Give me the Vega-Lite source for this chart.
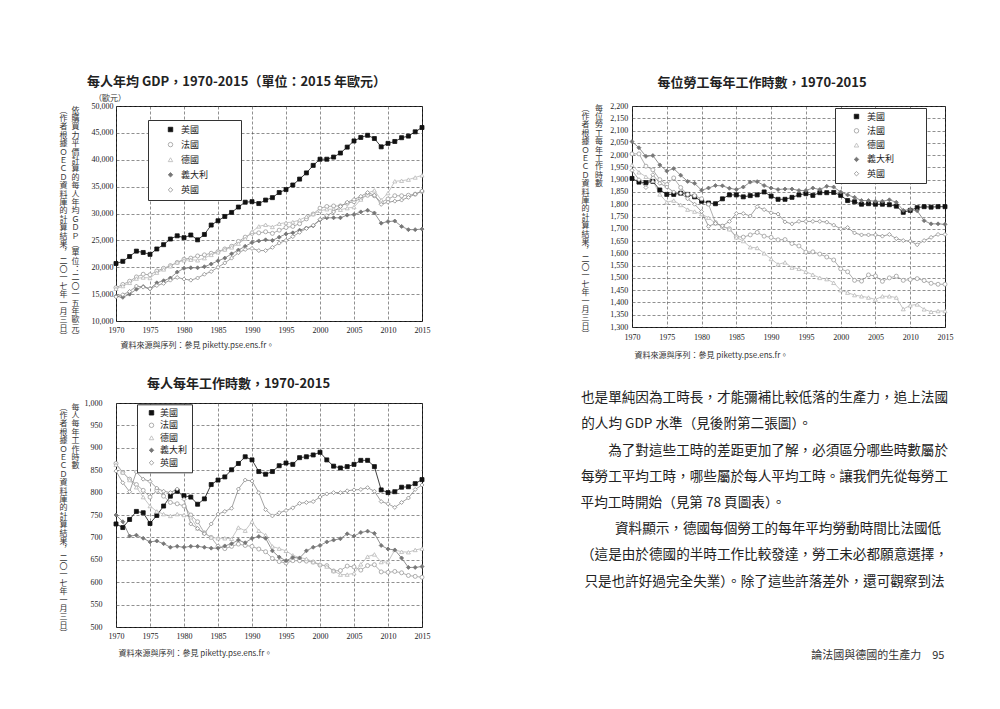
{
"$schema":"https://vega.github.io/schema/vega-lite/v6.json",
"background":"white",
"padding":{"left":58,"top":75,"right":5,"bottom":5},
"datasets":{
"gdp":[
{"country":"美國","year":1970,"value":20700},{"country":"美國","year":1971,"value":21100},{"country":"美國","year":1972,"value":22000},{"country":"美國","year":1973,"value":23000},{"country":"美國","year":1974,"value":22750},{"country":"美國","year":1975,"value":22400},{"country":"美國","year":1976,"value":23400},{"country":"美國","year":1977,"value":24200},{"country":"美國","year":1978,"value":25250},{"country":"美國","year":1979,"value":25850},
{"country":"美國","year":1980,"value":25500},{"country":"美國","year":1981,"value":26000},{"country":"美國","year":1982,"value":25100},{"country":"美國","year":1983,"value":26100},{"country":"美國","year":1984,"value":27850},{"country":"美國","year":1985,"value":28650},{"country":"美國","year":1986,"value":29450},{"country":"美國","year":1987,"value":30200},{"country":"美國","year":1988,"value":31200},{"country":"美國","year":1989,"value":32100},
{"country":"美國","year":1990,"value":32200},{"country":"美國","year":1991,"value":31850},{"country":"美國","year":1992,"value":32500},{"country":"美國","year":1993,"value":32950},{"country":"美國","year":1994,"value":33900},{"country":"美國","year":1995,"value":34450},{"country":"美國","year":1996,"value":35300},{"country":"美國","year":1997,"value":36400},{"country":"美國","year":1998,"value":37550},{"country":"美國","year":1999,"value":38950},
{"country":"美國","year":2000,"value":40100},{"country":"美國","year":2001,"value":40100},{"country":"美國","year":2002,"value":40500},{"country":"美國","year":2003,"value":41250},{"country":"美國","year":2004,"value":42350},{"country":"美國","year":2005,"value":43500},{"country":"美國","year":2006,"value":44150},{"country":"美國","year":2007,"value":44550},{"country":"美國","year":2008,"value":43950},{"country":"美國","year":2009,"value":42400},
{"country":"美國","year":2010,"value":43050},{"country":"美國","year":2011,"value":43400},{"country":"美國","year":2012,"value":44100},{"country":"美國","year":2013,"value":44400},{"country":"美國","year":2014,"value":45200},{"country":"美國","year":2015,"value":46000},
{"country":"法國","year":1970,"value":16200},{"country":"法國","year":1971,"value":16800},{"country":"法國","year":1972,"value":17400},{"country":"法國","year":1973,"value":18200},{"country":"法國","year":1974,"value":18700},{"country":"法國","year":1975,"value":18600},{"country":"法國","year":1976,"value":19300},{"country":"法國","year":1977,"value":19800},{"country":"法國","year":1978,"value":20300},{"country":"法國","year":1979,"value":20900},
{"country":"法國","year":1980,"value":21500},{"country":"法國","year":1981,"value":21700},{"country":"法國","year":1982,"value":22100},{"country":"法國","year":1983,"value":22300},{"country":"法國","year":1984,"value":22600},{"country":"法國","year":1985,"value":22900},{"country":"法國","year":1986,"value":23400},{"country":"法國","year":1987,"value":23900},{"country":"法國","year":1988,"value":24800},{"country":"法國","year":1989,"value":25600},
{"country":"法國","year":1990,"value":26300},{"country":"法國","year":1991,"value":26400},{"country":"法國","year":1992,"value":26600},{"country":"法國","year":1993,"value":26300},{"country":"法國","year":1994,"value":26900},{"country":"法國","year":1995,"value":27400},{"country":"法國","year":1996,"value":27600},{"country":"法國","year":1997,"value":28100},{"country":"法國","year":1998,"value":29000},{"country":"法國","year":1999,"value":29900},
{"country":"法國","year":2000,"value":31000},{"country":"法國","year":2001,"value":31300},{"country":"法國","year":2002,"value":31400},{"country":"法國","year":2003,"value":31400},{"country":"法國","year":2004,"value":31900},{"country":"法國","year":2005,"value":32200},{"country":"法國","year":2006,"value":32800},{"country":"法國","year":2007,"value":33400},{"country":"法國","year":2008,"value":33300},{"country":"法國","year":2009,"value":32100},
{"country":"法國","year":2010,"value":32700},{"country":"法國","year":2011,"value":33300},{"country":"法國","year":2012,"value":33300},{"country":"法國","year":2013,"value":33400},{"country":"法國","year":2014,"value":33600},{"country":"法國","year":2015,"value":34100},
{"country":"德國","year":1970,"value":16000},{"country":"德國","year":1971,"value":16500},{"country":"德國","year":1972,"value":17100},{"country":"德國","year":1973,"value":17900},{"country":"德國","year":1974,"value":18100},{"country":"德國","year":1975,"value":18000},{"country":"德國","year":1976,"value":19000},{"country":"德國","year":1977,"value":19600},{"country":"德國","year":1978,"value":20200},{"country":"德國","year":1979,"value":20900},
{"country":"德國","year":1980,"value":21300},{"country":"德國","year":1981,"value":21400},{"country":"德國","year":1982,"value":21300},{"country":"德國","year":1983,"value":21700},{"country":"德國","year":1984,"value":22300},{"country":"德國","year":1985,"value":22800},{"country":"德國","year":1986,"value":23300},{"country":"德國","year":1987,"value":23700},{"country":"德國","year":1988,"value":24400},{"country":"德國","year":1989,"value":25300},
{"country":"德國","year":1990,"value":26600},{"country":"德國","year":1991,"value":27600},{"country":"德國","year":1992,"value":27900},{"country":"德國","year":1993,"value":27500},{"country":"德國","year":1994,"value":28100},{"country":"德國","year":1995,"value":28300},{"country":"德國","year":1996,"value":28400},{"country":"德國","year":1997,"value":28800},{"country":"德國","year":1998,"value":29400},{"country":"德國","year":1999,"value":29900},
{"country":"德國","year":2000,"value":30500},{"country":"德國","year":2001,"value":30800},{"country":"德國","year":2002,"value":30800},{"country":"德國","year":2003,"value":30700},{"country":"德國","year":2004,"value":31000},{"country":"德國","year":2005,"value":31200},{"country":"德國","year":2006,"value":32600},{"country":"德國","year":2007,"value":33800},{"country":"德國","year":2008,"value":34300},{"country":"德國","year":2009,"value":32500},
{"country":"德國","year":2010,"value":33800},{"country":"德國","year":2011,"value":36000},{"country":"德國","year":2012,"value":36100},{"country":"德國","year":2013,"value":36300},{"country":"德國","year":2014,"value":36700},{"country":"德國","year":2015,"value":37100},
{"country":"義大利","year":1970,"value":14600},{"country":"義大利","year":1971,"value":14400},{"country":"義大利","year":1972,"value":15000},{"country":"義大利","year":1973,"value":15900},{"country":"義大利","year":1974,"value":16400},{"country":"義大利","year":1975,"value":16000},{"country":"義大利","year":1976,"value":17100},{"country":"義大利","year":1977,"value":17500},{"country":"義大利","year":1978,"value":18000},{"country":"義大利","year":1979,"value":19100},
{"country":"義大利","year":1980,"value":19800},{"country":"義大利","year":1981,"value":19900},{"country":"義大利","year":1982,"value":19900},{"country":"義大利","year":1983,"value":20100},{"country":"義大利","year":1984,"value":20600},{"country":"義大利","year":1985,"value":21200},{"country":"義大利","year":1986,"value":21700},{"country":"義大利","year":1987,"value":22500},{"country":"義大利","year":1988,"value":23200},{"country":"義大利","year":1989,"value":23900},
{"country":"義大利","year":1990,"value":24600},{"country":"義大利","year":1991,"value":24900},{"country":"義大利","year":1992,"value":25100},{"country":"義大利","year":1993,"value":25000},{"country":"義大利","year":1994,"value":25600},{"country":"義大利","year":1995,"value":26200},{"country":"義大利","year":1996,"value":26400},{"country":"義大利","year":1997,"value":26900},{"country":"義大利","year":1998,"value":27300},{"country":"義大利","year":1999,"value":27700},
{"country":"義大利","year":2000,"value":28800},{"country":"義大利","year":2001,"value":29200},{"country":"義大利","year":2002,"value":29200},{"country":"義大利","year":2003,"value":29200},{"country":"義大利","year":2004,"value":29700},{"country":"義大利","year":2005,"value":29800},{"country":"義大利","year":2006,"value":30300},{"country":"義大利","year":2007,"value":30600},{"country":"義大利","year":2008,"value":30100},{"country":"義大利","year":2009,"value":28200},
{"country":"義大利","year":2010,"value":28500},{"country":"義大利","year":2011,"value":28600},{"country":"義大利","year":2012,"value":27600},{"country":"義大利","year":2013,"value":27000},{"country":"義大利","year":2014,"value":27000},{"country":"義大利","year":2015,"value":27100},
{"country":"英國","year":1970,"value":14500},{"country":"英國","year":1971,"value":14900},{"country":"英國","year":1972,"value":15500},{"country":"英國","year":1973,"value":16500},{"country":"英國","year":1974,"value":16300},{"country":"英國","year":1975,"value":16000},{"country":"英國","year":1976,"value":16600},{"country":"英國","year":1977,"value":17000},{"country":"英國","year":1978,"value":17600},{"country":"英國","year":1979,"value":18100},
{"country":"英國","year":1980,"value":17800},{"country":"英國","year":1981,"value":17600},{"country":"英國","year":1982,"value":18000},{"country":"英國","year":1983,"value":18700},{"country":"英國","year":1984,"value":19200},{"country":"英國","year":1985,"value":20000},{"country":"英國","year":1986,"value":20800},{"country":"英國","year":1987,"value":21700},{"country":"英國","year":1988,"value":22700},{"country":"英國","year":1989,"value":23300},
{"country":"英國","year":1990,"value":23500},{"country":"英國","year":1991,"value":23100},{"country":"英國","year":1992,"value":23100},{"country":"英國","year":1993,"value":23700},{"country":"英國","year":1994,"value":24500},{"country":"英國","year":1995,"value":25000},{"country":"英國","year":1996,"value":25700},{"country":"英國","year":1997,"value":26500},{"country":"英國","year":1998,"value":27200},{"country":"英國","year":1999,"value":27800},
{"country":"英國","year":2000,"value":28900},{"country":"英國","year":2001,"value":29600},{"country":"英國","year":2002,"value":30300},{"country":"英國","year":2003,"value":31300},{"country":"英國","year":2004,"value":32100},{"country":"英國","year":2005,"value":32600},{"country":"英國","year":2006,"value":33200},{"country":"英國","year":2007,"value":33900},{"country":"英國","year":2008,"value":33400},{"country":"英國","year":2009,"value":31700},
{"country":"英國","year":2010,"value":32100},{"country":"英國","year":2011,"value":32300},{"country":"英國","year":2012,"value":32500},{"country":"英國","year":2013,"value":33000},{"country":"英國","year":2014,"value":33600},{"country":"英國","year":2015,"value":34200}
],
"hpp":[
{"country":"美國","year":1970,"value":730},{"country":"美國","year":1971,"value":722},{"country":"美國","year":1972,"value":740},{"country":"美國","year":1973,"value":758},{"country":"美國","year":1974,"value":755},{"country":"美國","year":1975,"value":731},{"country":"美國","year":1976,"value":749},{"country":"美國","year":1977,"value":770},{"country":"美國","year":1978,"value":792},{"country":"美國","year":1979,"value":803},
{"country":"美國","year":1980,"value":793},{"country":"美國","year":1981,"value":790},{"country":"美國","year":1982,"value":774},{"country":"美國","year":1983,"value":786},{"country":"美國","year":1984,"value":818},{"country":"美國","year":1985,"value":828},{"country":"美國","year":1986,"value":835},{"country":"美國","year":1987,"value":851},{"country":"美國","year":1988,"value":865},{"country":"美國","year":1989,"value":880},
{"country":"美國","year":1990,"value":873},{"country":"美國","year":1991,"value":847},{"country":"美國","year":1992,"value":841},{"country":"美國","year":1993,"value":847},{"country":"美國","year":1994,"value":860},{"country":"美國","year":1995,"value":866},{"country":"美國","year":1996,"value":863},{"country":"美國","year":1997,"value":878},{"country":"美國","year":1998,"value":880},{"country":"美國","year":1999,"value":884},
{"country":"美國","year":2000,"value":890},{"country":"美國","year":2001,"value":873},{"country":"美國","year":2002,"value":859},{"country":"美國","year":2003,"value":855},{"country":"美國","year":2004,"value":858},{"country":"美國","year":2005,"value":863},{"country":"美國","year":2006,"value":872},{"country":"美國","year":2007,"value":872},{"country":"美國","year":2008,"value":858},{"country":"美國","year":2009,"value":806},
{"country":"美國","year":2010,"value":800},{"country":"美國","year":2011,"value":802},{"country":"美國","year":2012,"value":812},{"country":"美國","year":2013,"value":813},{"country":"美國","year":2014,"value":820},{"country":"美國","year":2015,"value":829},
{"country":"法國","year":1970,"value":865},{"country":"法國","year":1971,"value":845},{"country":"法國","year":1972,"value":830},{"country":"法國","year":1973,"value":818},{"country":"法國","year":1974,"value":805},{"country":"法國","year":1975,"value":790},{"country":"法國","year":1976,"value":805},{"country":"法國","year":1977,"value":792},{"country":"法國","year":1978,"value":778},{"country":"法國","year":1979,"value":775},
{"country":"法國","year":1980,"value":770},{"country":"法國","year":1981,"value":750},{"country":"法國","year":1982,"value":735},{"country":"法國","year":1983,"value":710},{"country":"法國","year":1984,"value":700},{"country":"法國","year":1985,"value":680},{"country":"法國","year":1986,"value":675},{"country":"法國","year":1987,"value":680},{"country":"法國","year":1988,"value":685},{"country":"法國","year":1989,"value":682},
{"country":"法國","year":1990,"value":680},{"country":"法國","year":1991,"value":674},{"country":"法國","year":1992,"value":668},{"country":"法國","year":1993,"value":653},{"country":"法國","year":1994,"value":646},{"country":"法國","year":1995,"value":643},{"country":"法國","year":1996,"value":648},{"country":"法國","year":1997,"value":648},{"country":"法國","year":1998,"value":647},{"country":"法國","year":1999,"value":645},
{"country":"法國","year":2000,"value":638},{"country":"法國","year":2001,"value":637},{"country":"法國","year":2002,"value":625},{"country":"法國","year":2003,"value":626},{"country":"法國","year":2004,"value":636},{"country":"法國","year":2005,"value":634},{"country":"法國","year":2006,"value":627},{"country":"法國","year":2007,"value":637},{"country":"法國","year":2008,"value":639},{"country":"法國","year":2009,"value":623},
{"country":"法國","year":2010,"value":622},{"country":"法國","year":2011,"value":624},{"country":"法國","year":2012,"value":621},{"country":"法國","year":2013,"value":615},{"country":"法國","year":2014,"value":613},{"country":"法國","year":2015,"value":611},
{"country":"德國","year":1970,"value":862},{"country":"德國","year":1971,"value":845},{"country":"德國","year":1972,"value":828},{"country":"德國","year":1973,"value":812},{"country":"德國","year":1974,"value":790},{"country":"德國","year":1975,"value":770},{"country":"德國","year":1976,"value":758},{"country":"德國","year":1977,"value":752},{"country":"德國","year":1978,"value":748},{"country":"德國","year":1979,"value":752},
{"country":"德國","year":1980,"value":750},{"country":"德國","year":1981,"value":745},{"country":"德國","year":1982,"value":720},{"country":"德國","year":1983,"value":710},{"country":"德國","year":1984,"value":700},{"country":"德國","year":1985,"value":698},{"country":"德國","year":1986,"value":698},{"country":"德國","year":1987,"value":697},{"country":"德國","year":1988,"value":722},{"country":"德國","year":1989,"value":715},
{"country":"德國","year":1990,"value":735},{"country":"德國","year":1991,"value":715},{"country":"德國","year":1992,"value":705},{"country":"德國","year":1993,"value":680},{"country":"德國","year":1994,"value":675},{"country":"德國","year":1995,"value":670},{"country":"德國","year":1996,"value":660},{"country":"德國","year":1997,"value":655},{"country":"德國","year":1998,"value":652},{"country":"德國","year":1999,"value":645},
{"country":"德國","year":2000,"value":640},{"country":"德國","year":2001,"value":635},{"country":"德國","year":2002,"value":625},{"country":"德國","year":2003,"value":617},{"country":"德國","year":2004,"value":617},{"country":"德國","year":2005,"value":620},{"country":"德國","year":2006,"value":640},{"country":"德國","year":2007,"value":657},{"country":"德國","year":2008,"value":662},{"country":"德國","year":2009,"value":645},
{"country":"德國","year":2010,"value":645},{"country":"德國","year":2011,"value":672},{"country":"德國","year":2012,"value":668},{"country":"德國","year":2013,"value":667},{"country":"德國","year":2014,"value":672},{"country":"德國","year":2015,"value":675},
{"country":"義大利","year":1970,"value":750},{"country":"義大利","year":1971,"value":735},{"country":"義大利","year":1972,"value":703},{"country":"義大利","year":1973,"value":705},{"country":"義大利","year":1974,"value":698},{"country":"義大利","year":1975,"value":690},{"country":"義大利","year":1976,"value":692},{"country":"義大利","year":1977,"value":686},{"country":"義大利","year":1978,"value":678},{"country":"義大利","year":1979,"value":680},
{"country":"義大利","year":1980,"value":678},{"country":"義大利","year":1981,"value":680},{"country":"義大利","year":1982,"value":680},{"country":"義大利","year":1983,"value":678},{"country":"義大利","year":1984,"value":676},{"country":"義大利","year":1985,"value":676},{"country":"義大利","year":1986,"value":681},{"country":"義大利","year":1987,"value":686},{"country":"義大利","year":1988,"value":694},{"country":"義大利","year":1989,"value":688},
{"country":"義大利","year":1990,"value":698},{"country":"義大利","year":1991,"value":702},{"country":"義大利","year":1992,"value":698},{"country":"義大利","year":1993,"value":670},{"country":"義大利","year":1994,"value":656},{"country":"義大利","year":1995,"value":648},{"country":"義大利","year":1996,"value":655},{"country":"義大利","year":1997,"value":654},{"country":"義大利","year":1998,"value":670},{"country":"義大利","year":1999,"value":678},
{"country":"義大利","year":2000,"value":682},{"country":"義大利","year":2001,"value":690},{"country":"義大利","year":2002,"value":694},{"country":"義大利","year":2003,"value":697},{"country":"義大利","year":2004,"value":708},{"country":"義大利","year":2005,"value":703},{"country":"義大利","year":2006,"value":711},{"country":"義大利","year":2007,"value":714},{"country":"義大利","year":2008,"value":709},{"country":"義大利","year":2009,"value":682},
{"country":"義大利","year":2010,"value":674},{"country":"義大利","year":2011,"value":672},{"country":"義大利","year":2012,"value":654},{"country":"義大利","year":2013,"value":633},{"country":"義大利","year":2014,"value":633},{"country":"義大利","year":2015,"value":635},
{"country":"英國","year":1970,"value":848},{"country":"英國","year":1971,"value":822},{"country":"英國","year":1972,"value":802},{"country":"英國","year":1973,"value":846},{"country":"英國","year":1974,"value":830},{"country":"英國","year":1975,"value":825},{"country":"英國","year":1976,"value":810},{"country":"英國","year":1977,"value":803},{"country":"英國","year":1978,"value":800},{"country":"英國","year":1979,"value":808},
{"country":"英國","year":1980,"value":785},{"country":"英國","year":1981,"value":730},{"country":"英國","year":1982,"value":720},{"country":"英國","year":1983,"value":708},{"country":"英國","year":1984,"value":730},{"country":"英國","year":1985,"value":752},{"country":"英國","year":1986,"value":758},{"country":"英國","year":1987,"value":765},{"country":"英國","year":1988,"value":808},{"country":"英國","year":1989,"value":828},
{"country":"英國","year":1990,"value":826},{"country":"英國","year":1991,"value":800},{"country":"英國","year":1992,"value":762},{"country":"英國","year":1993,"value":748},{"country":"英國","year":1994,"value":755},{"country":"英國","year":1995,"value":760},{"country":"英國","year":1996,"value":766},{"country":"英國","year":1997,"value":776},{"country":"英國","year":1998,"value":778},{"country":"英國","year":1999,"value":780},
{"country":"英國","year":2000,"value":790},{"country":"英國","year":2001,"value":797},{"country":"英國","year":2002,"value":800},{"country":"英國","year":2003,"value":800},{"country":"英國","year":2004,"value":804},{"country":"英國","year":2005,"value":806},{"country":"英國","year":2006,"value":807},{"country":"英國","year":2007,"value":811},{"country":"英國","year":2008,"value":803},{"country":"英國","year":2009,"value":780},
{"country":"英國","year":2010,"value":775},{"country":"英國","year":2011,"value":767},{"country":"英國","year":2012,"value":778},{"country":"英國","year":2013,"value":788},{"country":"英國","year":2014,"value":807},{"country":"英國","year":2015,"value":817}
],
"hpw":[
{"country":"美國","year":1970,"value":1905},{"country":"美國","year":1971,"value":1890},{"country":"美國","year":1972,"value":1888},{"country":"美國","year":1973,"value":1893},{"country":"美國","year":1974,"value":1858},{"country":"美國","year":1975,"value":1840},{"country":"美國","year":1976,"value":1840},{"country":"美國","year":1977,"value":1845},{"country":"美國","year":1978,"value":1840},{"country":"美國","year":1979,"value":1830},
{"country":"美國","year":1980,"value":1812},{"country":"美國","year":1981,"value":1805},{"country":"美國","year":1982,"value":1802},{"country":"美國","year":1983,"value":1822},{"country":"美國","year":1984,"value":1838},{"country":"美國","year":1985,"value":1838},{"country":"美國","year":1986,"value":1830},{"country":"美國","year":1987,"value":1835},{"country":"美國","year":1988,"value":1838},{"country":"美國","year":1989,"value":1850},
{"country":"美國","year":1990,"value":1833},{"country":"美國","year":1991,"value":1820},{"country":"美國","year":1992,"value":1820},{"country":"美國","year":1993,"value":1828},{"country":"美國","year":1994,"value":1838},{"country":"美國","year":1995,"value":1843},{"country":"美國","year":1996,"value":1836},{"country":"美國","year":1997,"value":1847},{"country":"美國","year":1998,"value":1847},{"country":"美國","year":1999,"value":1848},
{"country":"美國","year":2000,"value":1836},{"country":"美國","year":2001,"value":1815},{"country":"美國","year":2002,"value":1810},{"country":"美國","year":2003,"value":1800},{"country":"美國","year":2004,"value":1802},{"country":"美國","year":2005,"value":1800},{"country":"美國","year":2006,"value":1800},{"country":"美國","year":2007,"value":1798},{"country":"美國","year":2008,"value":1792},{"country":"美國","year":2009,"value":1767},
{"country":"美國","year":2010,"value":1775},{"country":"美國","year":2011,"value":1786},{"country":"美國","year":2012,"value":1790},{"country":"美國","year":2013,"value":1788},{"country":"美國","year":2014,"value":1790},{"country":"美國","year":2015,"value":1790},
{"country":"法國","year":1970,"value":2005},{"country":"法國","year":1971,"value":2005},{"country":"法國","year":1972,"value":1955},{"country":"法國","year":1973,"value":1940},{"country":"法國","year":1974,"value":1900},{"country":"法國","year":1975,"value":1880},{"country":"法國","year":1976,"value":1907},{"country":"法國","year":1977,"value":1868},{"country":"法國","year":1978,"value":1840},{"country":"法國","year":1979,"value":1835},
{"country":"法國","year":1980,"value":1822},{"country":"法國","year":1981,"value":1800},{"country":"法國","year":1982,"value":1725},{"country":"法國","year":1983,"value":1710},{"country":"法國","year":1984,"value":1700},{"country":"法國","year":1985,"value":1668},{"country":"法國","year":1986,"value":1666},{"country":"法國","year":1987,"value":1675},{"country":"法國","year":1988,"value":1685},{"country":"法國","year":1989,"value":1670},
{"country":"法國","year":1990,"value":1665},{"country":"法國","year":1991,"value":1655},{"country":"法國","year":1992,"value":1656},{"country":"法國","year":1993,"value":1640},{"country":"法國","year":1994,"value":1630},{"country":"法國","year":1995,"value":1605},{"country":"法國","year":1996,"value":1606},{"country":"法國","year":1997,"value":1597},{"country":"法國","year":1998,"value":1585},{"country":"法國","year":1999,"value":1573},
{"country":"法國","year":2000,"value":1537},{"country":"法國","year":2001,"value":1525},{"country":"法國","year":2002,"value":1490},{"country":"法國","year":2003,"value":1487},{"country":"法國","year":2004,"value":1512},{"country":"法國","year":2005,"value":1508},{"country":"法國","year":2006,"value":1486},{"country":"法國","year":2007,"value":1500},{"country":"法國","year":2008,"value":1507},{"country":"法國","year":2009,"value":1490},
{"country":"法國","year":2010,"value":1493},{"country":"法國","year":2011,"value":1497},{"country":"法國","year":2012,"value":1489},{"country":"法國","year":2013,"value":1478},{"country":"法國","year":2014,"value":1474},{"country":"法國","year":2015,"value":1474},
{"country":"德國","year":1970,"value":1960},{"country":"德國","year":1971,"value":1930},{"country":"德國","year":1972,"value":1912},{"country":"德國","year":1973,"value":1895},{"country":"德國","year":1974,"value":1840},{"country":"德國","year":1975,"value":1808},{"country":"德國","year":1976,"value":1815},{"country":"德國","year":1977,"value":1797},{"country":"德國","year":1978,"value":1778},{"country":"德國","year":1979,"value":1770},
{"country":"德國","year":1980,"value":1760},{"country":"德國","year":1981,"value":1745},{"country":"德國","year":1982,"value":1722},{"country":"德國","year":1983,"value":1710},{"country":"德國","year":1984,"value":1698},{"country":"德國","year":1985,"value":1665},{"country":"德國","year":1986,"value":1650},{"country":"德國","year":1987,"value":1625},{"country":"德國","year":1988,"value":1622},{"country":"德國","year":1989,"value":1600},
{"country":"德國","year":1990,"value":1577},{"country":"德國","year":1991,"value":1555},{"country":"德國","year":1992,"value":1563},{"country":"德國","year":1993,"value":1542},{"country":"德國","year":1994,"value":1537},{"country":"德國","year":1995,"value":1525},{"country":"德國","year":1996,"value":1513},{"country":"德國","year":1997,"value":1500},{"country":"德國","year":1998,"value":1495},{"country":"德國","year":1999,"value":1480},
{"country":"德國","year":2000,"value":1450},{"country":"德國","year":2001,"value":1440},{"country":"德國","year":2002,"value":1430},{"country":"德國","year":2003,"value":1425},{"country":"德國","year":2004,"value":1420},{"country":"德國","year":2005,"value":1412},{"country":"德國","year":2006,"value":1425},{"country":"德國","year":2007,"value":1425},{"country":"德國","year":2008,"value":1420},{"country":"德國","year":2009,"value":1373},
{"country":"德國","year":2010,"value":1388},{"country":"德國","year":2011,"value":1392},{"country":"德國","year":2012,"value":1372},{"country":"德國","year":2013,"value":1362},{"country":"德國","year":2014,"value":1365},{"country":"德國","year":2015,"value":1365},
{"country":"義大利","year":1970,"value":2055},{"country":"義大利","year":1971,"value":2030},{"country":"義大利","year":1972,"value":1995},{"country":"義大利","year":1973,"value":1998},{"country":"義大利","year":1974,"value":1960},{"country":"義大利","year":1975,"value":1935},{"country":"義大利","year":1976,"value":1945},{"country":"義大利","year":1977,"value":1918},{"country":"義大利","year":1978,"value":1893},{"country":"義大利","year":1979,"value":1885},
{"country":"義大利","year":1980,"value":1857},{"country":"義大利","year":1981,"value":1866},{"country":"義大利","year":1982,"value":1876},{"country":"義大利","year":1983,"value":1875},{"country":"義大利","year":1984,"value":1865},{"country":"義大利","year":1985,"value":1860},{"country":"義大利","year":1986,"value":1870},{"country":"義大利","year":1987,"value":1890},{"country":"義大利","year":1988,"value":1892},{"country":"義大利","year":1989,"value":1876},
{"country":"義大利","year":1990,"value":1866},{"country":"義大利","year":1991,"value":1860},{"country":"義大利","year":1992,"value":1862},{"country":"義大利","year":1993,"value":1862},{"country":"義大利","year":1994,"value":1856},{"country":"義大利","year":1995,"value":1856},{"country":"義大利","year":1996,"value":1866},{"country":"義大利","year":1997,"value":1860},{"country":"義大利","year":1998,"value":1873},{"country":"義大利","year":1999,"value":1870},
{"country":"義大利","year":2000,"value":1850},{"country":"義大利","year":2001,"value":1838},{"country":"義大利","year":2002,"value":1828},{"country":"義大利","year":2003,"value":1815},{"country":"義大利","year":2004,"value":1815},{"country":"義大利","year":2005,"value":1812},{"country":"義大利","year":2006,"value":1812},{"country":"義大利","year":2007,"value":1818},{"country":"義大利","year":2008,"value":1808},{"country":"義大利","year":2009,"value":1775},
{"country":"義大利","year":2010,"value":1778},{"country":"義大利","year":2011,"value":1773},{"country":"義大利","year":2012,"value":1733},{"country":"義大利","year":2013,"value":1720},{"country":"義大利","year":2014,"value":1720},{"country":"義大利","year":2015,"value":1718},
{"country":"英國","year":1970,"value":1938},{"country":"英國","year":1971,"value":1900},{"country":"英國","year":1972,"value":1868},{"country":"英國","year":1973,"value":1920},{"country":"英國","year":1974,"value":1885},{"country":"英國","year":1975,"value":1870},{"country":"英國","year":1976,"value":1850},{"country":"英國","year":1977,"value":1845},{"country":"英國","year":1978,"value":1822},{"country":"英國","year":1979,"value":1800},
{"country":"英國","year":1980,"value":1770},{"country":"英國","year":1981,"value":1710},{"country":"英國","year":1982,"value":1722},{"country":"英國","year":1983,"value":1712},{"country":"英國","year":1984,"value":1730},{"country":"英國","year":1985,"value":1762},{"country":"英國","year":1986,"value":1762},{"country":"英國","year":1987,"value":1752},{"country":"英國","year":1988,"value":1790},{"country":"英國","year":1989,"value":1778},
{"country":"英國","year":1990,"value":1765},{"country":"英國","year":1991,"value":1760},{"country":"英國","year":1992,"value":1728},{"country":"英國","year":1993,"value":1720},{"country":"英國","year":1994,"value":1730},{"country":"英國","year":1995,"value":1730},{"country":"英國","year":1996,"value":1730},{"country":"英國","year":1997,"value":1730},{"country":"英國","year":1998,"value":1727},{"country":"英國","year":1999,"value":1715},
{"country":"英國","year":2000,"value":1700},{"country":"英國","year":2001,"value":1705},{"country":"英國","year":2002,"value":1683},{"country":"英國","year":2003,"value":1675},{"country":"英國","year":2004,"value":1675},{"country":"英國","year":2005,"value":1675},{"country":"英國","year":2006,"value":1670},{"country":"英國","year":2007,"value":1677},{"country":"英國","year":2008,"value":1660},{"country":"英國","year":2009,"value":1652},
{"country":"英國","year":2010,"value":1650},{"country":"英國","year":2011,"value":1635},{"country":"英國","year":2012,"value":1652},{"country":"英國","year":2013,"value":1665},{"country":"英國","year":2014,"value":1677},{"country":"英國","year":2015,"value":1677}
],
"body":[
{"line":1,"text":"也是單純因為工時長，才能彌補比較低落的生產力，追上法國"},
{"line":2,"text":"的人均 GDP 水準（見後附第二張圖）。\u3000\u3000\u3000\u3000\u3000\u3000\u3000\u3000\u3000\u2002\u2002\u200b"},
{"line":3,"text":"\u200b\u3000\u3000為了對這些工時的差距更加了解，必須區分哪些時數屬於"},
{"line":4,"text":"每勞工平均工時，哪些屬於每人平均工時。讓我們先從每勞工"},
{"line":5,"text":"平均工時開始（見第 78 頁圖表）。\u3000\u3000\u3000\u3000\u3000\u3000\u3000\u3000\u3000\u3000\u3000\u2002\u2002\u200b"},
{"line":6,"text":"\u200b\u3000\u3000資料顯示，德國每個勞工的每年平均勞動時間比法國低"},
{"line":7,"text":"（這是由於德國的半時工作比較發達，勞工未必都願意選擇，"},
{"line":8,"text":"只是也許好過完全失業）。除了這些許落差外，還可觀察到法"}
]
},
"spacing":149,
"resolve":{"scale":{"stroke":"independent","fill":"independent","shape":"independent"},"legend":{"stroke":"independent","fill":"independent","shape":"independent"}},
"hconcat":[
{"spacing":27,
"resolve":{"scale":{"stroke":"independent","fill":"independent","shape":"independent"},"legend":{"stroke":"independent","fill":"independent","shape":"independent"}},
"vconcat":[
{"width":306,"height":215,
"title":{"text":"每人年均 GDP，1970-2015（單位：2015 年歐元）","dx":-8,"offset":6},
"layer":[
{"data":{"name":"gdp"},
"mark":{"type":"line","strokeWidth":0.8},
"encoding":{
"x":{"field":"year","type":"quantitative","scale":{"domain":[1970,2015],"nice":false,"zero":false},
"axis":{"values":[1970,1975,1980,1985,1990,1995,2000,2005,2010,2015],"format":"d","labelPadding":5,
"title":"資料來源與序列：參見 piketty.pse.ens.fr。","titleX":4,"titleY":20,"titleAlign":"left","titleBaseline":"top"}},
"y":{"field":"value","type":"quantitative","scale":{"domain":[10000,50000],"nice":false,"zero":false},
"axis":{"values":[10000,15000,20000,25000,30000,35000,40000,45000,50000],"format":",.0f","labelPadding":3,
"title":["︵\u2002依","作\u2002購","者\u2002買","根\u2002力","據\u2002平","Ｏ\u2002價","Ｅ\u2002計","Ｃ\u2002算","Ｄ\u2002的","資\u2002每","料\u2002人","庫\u2002年","的\u2002均","計\u2002Ｇ","算\u2002Ｄ","結\u2002Ｐ","果\u2002︵","︐\u2002單","二\u2002位","〇\u2002︓","一\u2002二","七\u2002〇","年\u2002一","一\u2002五","月\u2002年","三\u2002歐","日\u2002元","︶\u2002︶"],
"titleAngle":0,"titleAlign":"left","titleBaseline":"top","titleX":-57,"titleY":0,"titleLineHeight":8.4}},
"stroke":{"field":"country","type":"nominal","scale":{"domain":["美國","法國","德國","義大利","英國"],"range":["#111111","#9a9a9a","#b8b8b8","#767676","#8a8a8a"]},"legend":{"title":null,"orient":"none","legendX":32,"legendY":14,"padding":5,"rowPadding":5.1,"symbolOffset":13,"labelOffset":6,"labelExpr":"datum.label + '\u3000\u3000\u3000\u200b'"}}}},
{"data":{"name":"gdp"},
"mark":{"type":"point","filled":true,"size":16,"strokeWidth":0.8,"opacity":1},
"encoding":{
"x":{"field":"year","type":"quantitative","scale":{"domain":[1970,2015],"nice":false,"zero":false},
"axis":{"values":[1970,1975,1980,1985,1990,1995,2000,2005,2010,2015],"format":"d","labelPadding":5,
"title":"資料來源與序列：參見 piketty.pse.ens.fr。","titleX":4,"titleY":20,"titleAlign":"left","titleBaseline":"top"}},
"y":{"field":"value","type":"quantitative","scale":{"domain":[10000,50000],"nice":false,"zero":false},
"axis":{"values":[10000,15000,20000,25000,30000,35000,40000,45000,50000],"format":",.0f","labelPadding":3,
"title":["︵\u2002依","作\u2002購","者\u2002買","根\u2002力","據\u2002平","Ｏ\u2002價","Ｅ\u2002計","Ｃ\u2002算","Ｄ\u2002的","資\u2002每","料\u2002人","庫\u2002年","的\u2002均","計\u2002Ｇ","算\u2002Ｄ","結\u2002Ｐ","果\u2002︵","︐\u2002單","二\u2002位","〇\u2002︓","一\u2002二","七\u2002〇","年\u2002一","一\u2002五","月\u2002年","三\u2002歐","日\u2002元","︶\u2002︶"],
"titleAngle":0,"titleAlign":"left","titleBaseline":"top","titleX":-57,"titleY":0,"titleLineHeight":8.4}},
"stroke":{"field":"country","type":"nominal","scale":{"domain":["美國","法國","德國","義大利","英國"],"range":["#111111","#9a9a9a","#b8b8b8","#767676","#8a8a8a"]},"legend":{"title":null,"orient":"none","legendX":32,"legendY":14,"padding":5,"rowPadding":5.1,"symbolOffset":13,"labelOffset":6,"labelExpr":"datum.label + '\u3000\u3000\u3000\u200b'"}},
"fill":{"field":"country","type":"nominal","scale":{"domain":["美國","法國","德國","義大利","英國"],"range":["#111111","#ffffff","#ffffff","#767676","#ffffff"]},"legend":{"title":null,"orient":"none","legendX":32,"legendY":14,"padding":5,"rowPadding":5.1,"symbolOffset":13,"labelOffset":6,"labelExpr":"datum.label + '\u3000\u3000\u3000\u200b'"}},
"shape":{"field":"country","type":"nominal","scale":{"domain":["美國","法國","德國","義大利","英國"],"range":["square","circle","triangle-up","diamond","diamond"]},"legend":{"title":null,"orient":"none","legendX":32,"legendY":14,"padding":5,"rowPadding":5.1,"symbolOffset":13,"labelOffset":6,"labelExpr":"datum.label + '\u3000\u3000\u3000\u200b'"}}
}},
{"data":{"values":[{"unit":"（歐元）"}]},
"mark":{"type":"text","dx":-6,"dy":-7,"fontSize":8,"color":"#333","align":"center","baseline":"middle"},
"encoding":{
"x":{"datum":1970,"type":"quantitative","scale":{"domain":[1970,2015],"nice":false,"zero":false},
"axis":{"values":[1970,1975,1980,1985,1990,1995,2000,2005,2010,2015],"format":"d","labelPadding":5,
"title":"資料來源與序列：參見 piketty.pse.ens.fr。","titleX":4,"titleY":20,"titleAlign":"left","titleBaseline":"top"}},
"y":{"datum":50000,"type":"quantitative","scale":{"domain":[10000,50000],"nice":false,"zero":false},
"axis":{"values":[10000,15000,20000,25000,30000,35000,40000,45000,50000],"format":",.0f","labelPadding":3,
"title":["︵\u2002依","作\u2002購","者\u2002買","根\u2002力","據\u2002平","Ｏ\u2002價","Ｅ\u2002計","Ｃ\u2002算","Ｄ\u2002的","資\u2002每","料\u2002人","庫\u2002年","的\u2002均","計\u2002Ｇ","算\u2002Ｄ","結\u2002Ｐ","果\u2002︵","︐\u2002單","二\u2002位","〇\u2002︓","一\u2002二","七\u2002〇","年\u2002一","一\u2002五","月\u2002年","三\u2002歐","日\u2002元","︶\u2002︶"],
"titleAngle":0,"titleAlign":"left","titleBaseline":"top","titleX":-57,"titleY":0,"titleLineHeight":8.4}},
"text":{"field":"unit","type":"nominal"}}}
]
},
{"width":306,"height":224,
"title":{"text":"每人每年工作時數，1970-2015","dx":-6,"offset":8},
"data":{"name":"hpp"},
"encoding":{
"x":{"field":"year","type":"quantitative","scale":{"domain":[1970,2015],"nice":false,"zero":false},
"axis":{"values":[1970,1975,1980,1985,1990,1995,2000,2005,2010,2015],"format":"d","labelPadding":5.5,
"title":"資料來源與序列：參見 piketty.pse.ens.fr。","titleX":2,"titleY":22,"titleAlign":"left","titleBaseline":"top"}},
"y":{"field":"value","type":"quantitative","scale":{"domain":[500,1000],"nice":false,"zero":false},
"axis":{"values":[500,550,600,650,700,750,800,850,900,950,1000],"format":",.0f","labelPadding":14,
"title":["︵\u2002每","作\u2002人","者\u2002每","根\u2002年","據\u2002工","Ｏ\u2002作","Ｅ\u2002時","Ｃ\u2002數","Ｄ","資","料","庫","的","計","算","結","果","︐","二","〇","一","七","年","一","月","三","日","︶"],
"titleAngle":0,"titleAlign":"left","titleBaseline":"top","titleX":-57,"titleY":0,"titleLineHeight":8.4}}
},
"layer":[
{"mark":{"type":"line","strokeWidth":0.8},
"encoding":{"stroke":{"field":"country","type":"nominal","scale":{"domain":["美國","法國","德國","義大利","英國"],"range":["#111111","#9a9a9a","#b8b8b8","#767676","#8a8a8a"]},"legend":{"title":null,"orient":"none","legendX":21,"legendY":1.3,"padding":4,"rowPadding":2.5,"symbolOffset":6,"labelOffset":4}}}},
{"mark":{"type":"point","filled":true,"size":16,"strokeWidth":0.8,"opacity":1},
"encoding":{
"stroke":{"field":"country","type":"nominal","scale":{"domain":["美國","法國","德國","義大利","英國"],"range":["#111111","#9a9a9a","#b8b8b8","#767676","#8a8a8a"]},"legend":{"title":null,"orient":"none","legendX":21,"legendY":1.3,"padding":4,"rowPadding":2.5,"symbolOffset":6,"labelOffset":4}},
"fill":{"field":"country","type":"nominal","scale":{"domain":["美國","法國","德國","義大利","英國"],"range":["#111111","#ffffff","#ffffff","#767676","#ffffff"]},"legend":{"title":null,"orient":"none","legendX":21,"legendY":1.3,"padding":4,"rowPadding":2.5,"symbolOffset":6,"labelOffset":4}},
"shape":{"field":"country","type":"nominal","scale":{"domain":["美國","法國","德國","義大利","英國"],"range":["square","circle","triangle-up","diamond","diamond"]},"legend":{"title":null,"orient":"none","legendX":21,"legendY":1.3,"padding":4,"rowPadding":2.5,"symbolOffset":6,"labelOffset":4}}
}}
]
}
]},
{"spacing":25,
"resolve":{"scale":{"stroke":"independent","fill":"independent","shape":"independent"},"legend":{"stroke":"independent","fill":"independent","shape":"independent"}},
"vconcat":[
{"width":313,"height":221,
"title":{"text":"每位勞工每年工作時數，1970-2015","dx":-5,"offset":12},
"data":{"name":"hpw"},
"encoding":{
"x":{"field":"year","type":"quantitative","scale":{"domain":[1970,2015],"nice":false,"zero":false},
"axis":{"values":[1970,1975,1980,1985,1990,1995,2000,2005,2010,2015],"format":"d","labelPadding":6.5,
"title":"資料來源與序列：參見 piketty.pse.ens.fr。","titleX":2,"titleY":24,"titleAlign":"left","titleBaseline":"top"}},
"y":{"field":"value","type":"quantitative","scale":{"domain":[1300,2200],"nice":false,"zero":false},
"axis":{"values":[1300,1350,1400,1450,1500,1550,1600,1650,1700,1750,1800,1850,1900,1950,2000,2050,2100,2150,2200],"format":",.0f","labelPadding":4.3,
"title":["︵\u2002\u2009每","作\u2002\u2009位","者\u2002\u2009勞","根\u2002\u2009工","據\u2002\u2009每","Ｏ\u2002\u2009年","Ｅ\u2002\u2009工","Ｃ\u2002\u2009作","Ｄ\u2002\u2009時","資\u2002\u2009數","料","庫","的","計","算","結","果","︐","二","〇","一","七","年","一","月","三","日","︶"],
"titleAngle":0,"titleAlign":"left","titleBaseline":"top","titleX":-51,"titleY":-2,"titleLineHeight":8.4}}
},
"layer":[
{"mark":{"type":"line","strokeWidth":0.8},
"encoding":{"stroke":{"field":"country","type":"nominal","scale":{"domain":["美國","法國","德國","義大利","英國"],"range":["#111111","#9a9a9a","#b8b8b8","#767676","#8a8a8a"]},"legend":{"title":null,"orient":"none","legendX":203,"legendY":2,"padding":4,"rowPadding":4.3,"symbolOffset":13,"labelOffset":6,"labelExpr":"datum.label + '\u3000\u3000\u3000\u200b'"}}}},
{"mark":{"type":"point","filled":true,"size":16,"strokeWidth":0.8,"opacity":1},
"encoding":{
"stroke":{"field":"country","type":"nominal","scale":{"domain":["美國","法國","德國","義大利","英國"],"range":["#111111","#9a9a9a","#b8b8b8","#767676","#8a8a8a"]},"legend":{"title":null,"orient":"none","legendX":203,"legendY":2,"padding":4,"rowPadding":4.3,"symbolOffset":13,"labelOffset":6,"labelExpr":"datum.label + '\u3000\u3000\u3000\u200b'"}},
"fill":{"field":"country","type":"nominal","scale":{"domain":["美國","法國","德國","義大利","英國"],"range":["#111111","#ffffff","#ffffff","#767676","#ffffff"]},"legend":{"title":null,"orient":"none","legendX":203,"legendY":2,"padding":4,"rowPadding":4.3,"symbolOffset":13,"labelOffset":6,"labelExpr":"datum.label + '\u3000\u3000\u3000\u200b'"}},
"shape":{"field":"country","type":"nominal","scale":{"domain":["美國","法國","德國","義大利","英國"],"range":["square","circle","triangle-up","diamond","diamond"]},"legend":{"title":null,"orient":"none","legendX":203,"legendY":2,"padding":4,"rowPadding":4.3,"symbolOffset":13,"labelOffset":6,"labelExpr":"datum.label + '\u3000\u3000\u3000\u200b'"}}
}}
]
},
{"width":265,"height":{"step":26.2},
"view":{"stroke":null},
"data":{"name":"body"},
"title":{"text":"論法國與德國的生產力　95","orient":"bottom","anchor":"end","frame":"bounds","fontSize":11,"fontWeight":"normal","color":"#333","offset":55,"dx":-4},
"mark":{"type":"text","fontSize":13.6,"color":"#222","baseline":"middle"},
"encoding":{
"y":{"field":"line","type":"ordinal","scale":{"type":"point","padding":0.5},"axis":null},
"text":{"field":"text"}
}}
]}
],
"config":{
"font":"Noto Sans CJK TC",
"view":{"stroke":"#111111","strokeWidth":1},
"axis":{"labelFont":"Liberation Serif","labelFontSize":8,"labelColor":"#222","ticks":false,"domain":false,"grid":true,"gridColor":"#444","gridDash":[3,2],"gridWidth":0.6,"labelFlush":false,"labelOverlap":false,"titleFont":"Noto Sans CJK TC","titleFontWeight":"normal","titleColor":"#333","titleFontSize":8},
"legend":{"labelFont":"Noto Sans CJK TC","labelFontSize":9,"labelColor":"#222","strokeColor":"#333","fillColor":"white","symbolSize":20,"symbolStrokeWidth":0.8},
"title":{"font":"Noto Sans CJK TC","fontSize":13,"fontWeight":"bold","color":"#222","frame":"bounds","anchor":"middle"}
}
}
